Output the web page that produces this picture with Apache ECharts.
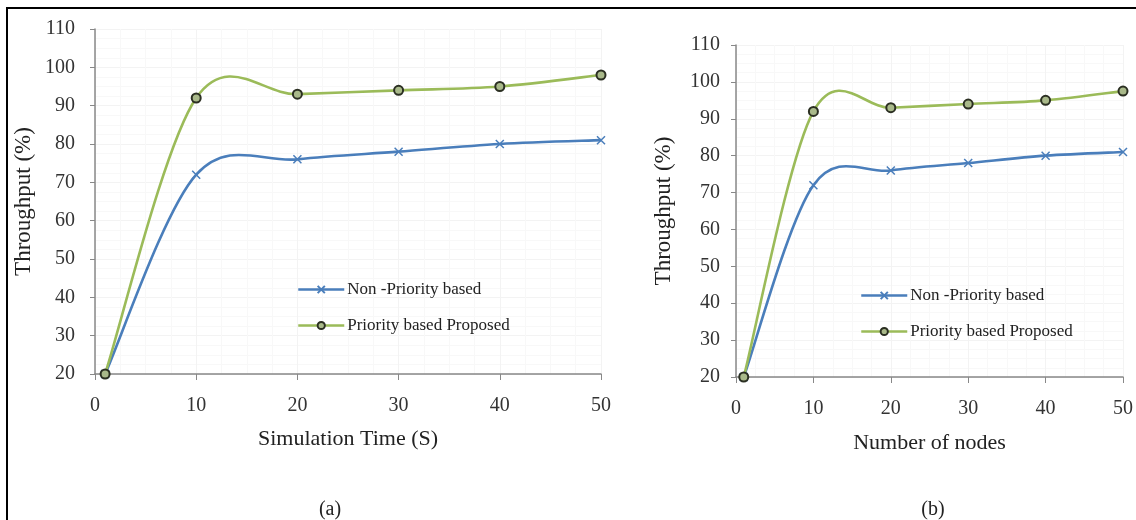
<!DOCTYPE html>
<html>
<head>
<meta charset="utf-8">
<script src="https://cdn.jsdelivr.net/npm/echarts@6/dist/echarts.min.js"></script>
<style>
  html, body { margin: 0; padding: 0; background: #fff; }
  #main { width: 1136px; height: 520px; }
</style>
</head>
<body>
<div id="main"></div>
<script>
// x positions (same for both panels)
const xValues = [1, 10, 20, 30, 40, 50]
const yTicks = [20, 110, 10] // min, max, step

// panel (a): simulation time
const nonPriorityA = [20, 72, 76, 78, 80, 81]
const priorityA = [20, 92, 93, 94, 95, 98]

// panel (b): number of nodes
const nonPriorityB = [20, 72, 76, 78, 80, 81]
const priorityB = [20, 92, 93, 94, 95, 97.5]

const seriesNames = ['Non -Priority based', 'Priority based Proposed']
const xTitles = ['Simulation Time (S)', 'Number of nodes']
const yTitle = 'Throughput (%)'
const panelLabels = ['(a)', '(b)']

const serif = 'Liberation Serif'
const blue = '#4A7EBB'
const green = '#9BBB59'
const crossPath = 'path://M0,0L10,10M10,0L0,10'

const pairs = (ys) => xValues.map((x, i) => [x, ys[i]])

const makeX = (idx, gap) => ({
  type: 'value',
  gridIndex: idx,
  min: 0,
  max: 50,
  interval: 10,
  name: xTitles[idx],
  nameLocation: 'middle',
  nameGap: gap,
  nameTextStyle: { fontFamily: serif, fontSize: 22, color: '#222' },
  axisLine: { lineStyle: { color: '#888', width: 1.5 } },
  axisTick: { length: 6, lineStyle: { color: '#888' } },
  axisLabel: { margin: 22, fontFamily: serif, fontSize: 20, color: '#333' },
  splitLine: { show: true, lineStyle: { color: '#f3f3f3' } },
  minorTick: { show: false, splitNumber: 4 },
  minorSplitLine: { show: true, lineStyle: { color: '#f8f8f8' } }
})

const makeY = (idx, gap, margin) => ({
  type: 'value',
  gridIndex: idx,
  min: yTicks[0],
  max: yTicks[1],
  interval: yTicks[2],
  name: yTitle,
  nameLocation: 'middle',
  nameGap: gap,
  nameTextStyle: { fontFamily: serif, fontSize: 23, color: '#222' },
  axisLine: { show: true, lineStyle: { color: '#888', width: 1.5 } },
  axisTick: { show: true, length: 5, lineStyle: { color: '#888' } },
  axisLabel: { margin: margin, fontFamily: serif, fontSize: 20, color: '#333' },
  splitLine: { show: true, lineStyle: { color: '#f3f3f3' } },
  minorTick: { show: false, splitNumber: 4 },
  minorSplitLine: { show: true, lineStyle: { color: '#f8f8f8' } }
})

// Excel-like smoothed curve (Catmull-Rom -> bezier), drawn through the axis scales
const smoothCurve = (idx, name, ys, color) => ({
  name: name,
  type: 'custom',
  xAxisIndex: idx,
  yAxisIndex: idx,
  data: pairs(ys),
  silent: true,
  z: 2,
  renderItem: (params, api) => {
    if (params.dataIndex !== 0) return null
    const p = xValues.map((x, i) => api.coord([x, ys[i]]))
    const n = p.length
    const children = []
    for (let i = 0; i < n - 1; i++) {
      const p0 = p[Math.max(i - 1, 0)]
      const p1 = p[i]
      const p2 = p[i + 1]
      const p3 = p[Math.min(i + 2, n - 1)]
      children.push({
        type: 'bezierCurve',
        shape: {
          x1: p1[0], y1: p1[1],
          x2: p2[0], y2: p2[1],
          cpx1: p1[0] + (p2[0] - p0[0]) / 6,
          cpy1: p1[1] + (p2[1] - p0[1]) / 6,
          cpx2: p2[0] - (p3[0] - p1[0]) / 6,
          cpy2: p2[1] - (p3[1] - p1[1]) / 6
        },
        style: { fill: 'none', stroke: color, lineWidth: 2.6 }
      })
    }
    return { type: 'group', children: children }
  }
})

const makeSeries = (idx, nonVals, priVals) => [
  {
    name: seriesNames[0],
    type: 'line',
    xAxisIndex: idx,
    yAxisIndex: idx,
    data: pairs(nonVals),
    symbol: crossPath,
    symbolSize: 8,
    lineStyle: { color: blue, width: 2.5, opacity: 0 },
    itemStyle: { color: blue, borderColor: blue, borderWidth: 1.5 },
    z: 3
  },
  {
    name: seriesNames[1],
    type: 'line',
    xAxisIndex: idx,
    yAxisIndex: idx,
    data: pairs(priVals),
    symbol: 'circle',
    symbolSize: 9,
    lineStyle: { color: green, width: 2.5, opacity: 0 },
    itemStyle: { color: '#a9b98a', borderColor: '#2b2f22', borderWidth: 2 },
    z: 4
  },
  smoothCurve(idx, seriesNames[0], nonVals, blue),
  smoothCurve(idx, seriesNames[1], priVals, green)
]

const makeLegend = (left, top) => ({
  orient: 'vertical',
  left: left,
  top: top,
  itemWidth: 46,
  itemHeight: 9,
  itemGap: 19,
  data: [
    { name: seriesNames[0], lineStyle: { color: blue, width: 2.5, opacity: 1 } },
    { name: seriesNames[1], lineStyle: { color: green, width: 2.5, opacity: 1 } }
  ],
  textStyle: { fontFamily: serif, fontSize: 17, color: '#222', padding: [0, 0, 0, -2] }
})

let myChart = echarts.init(document.getElementById('main'))

let option = {
  backgroundColor: '#fff',
  animation: false,
  grid: [
    { left: 95, top: 29, width: 506, height: 345 },
    { left: 736, top: 45, width: 391, height: 332 }
  ],
  xAxis: [makeX(0, 54), makeX(1, 55)],
  yAxis: [makeY(0, 60, 20), makeY(1, 61, 16)],
  legend: [makeLegend(292, 276), makeLegend(855, 282)],
  series: [...makeSeries(0, nonPriorityA, priorityA), ...makeSeries(1, nonPriorityB, priorityB)],
  graphic: [
    {
      type: 'rect',
      shape: { x: 7, y: 8, width: 1200, height: 600 },
      style: { fill: 'none', stroke: '#000', lineWidth: 2 },
      silent: true
    },
    {
      type: 'text',
      x: 330,
      y: 510,
      style: { text: panelLabels[0], font: '20px "Liberation Serif"', fill: '#222', align: 'center', verticalAlign: 'middle' }
    },
    {
      type: 'text',
      x: 933,
      y: 510,
      style: { text: panelLabels[1], font: '20px "Liberation Serif"', fill: '#222', align: 'center', verticalAlign: 'middle' }
    }
  ]
}

myChart.setOption(option)
</script>
</body>
</html>
